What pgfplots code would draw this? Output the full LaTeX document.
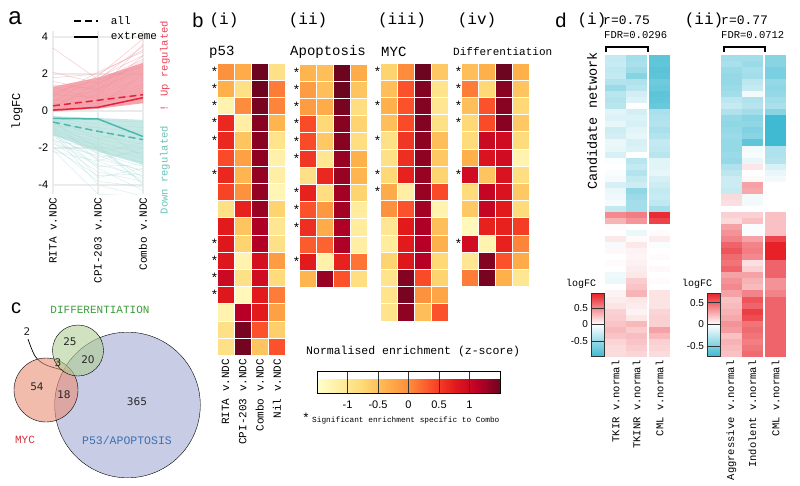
\documentclass[border=0pt]{standalone}
\usepackage{fontspec}
\setmainfont{Liberation Mono}
\newfontfamily\sans{Liberation Sans}
\newfontfamily\dvs{DejaVu Sans}
\usepackage{pgfplots}
\usepackage{pgfplotstable}
\pgfplotsset{compat=1.18}
\newcommand\fs[1]{\fontsize{#1}{#1}\selectfont}

\definecolor{upred}{HTML}{E8203A}
\definecolor{uppink}{HTML}{F2939D}
\definecolor{upband}{HTML}{F29AA4}
\definecolor{dnteal}{HTML}{4CB8AD}
\definecolor{dnlight}{HTML}{A6DAD5}
\definecolor{dnband}{HTML}{BCE4E0}
\definecolor{gridg}{HTML}{EBEBEB}
\definecolor{vblue}{HTML}{A3ABD3}
\definecolor{vred}{HTML}{EA8F77}
\definecolor{vgreen}{HTML}{B0CF95}
\definecolor{tgreen}{HTML}{3C9A3C}
\definecolor{tred}{HTML}{D8303A}
\definecolor{tblue}{HTML}{3C70B0}

\pgfplotsset{
  colormap={ylorrd}{rgb255=(255,255,204) rgb255=(255,237,160) rgb255=(254,217,118) rgb255=(254,178,76) rgb255=(253,141,60) rgb255=(252,78,42) rgb255=(227,26,28) rgb255=(189,0,38) rgb255=(110,5,32)},
  colormap={bwr}{rgb255=(64,186,210) rgb255=(255,255,255) rgb255=(232,32,40)},
  /pgf/number format/assume math mode=true,
  hm/.style={scatter, only marks, mark=bcell, point meta=explicit,
    scatter/use mapped color={draw=white, fill=mapped color}, line width=0.9pt},
  dm/.style={scatter, only marks, mark=dcell, point meta=explicit,
    scatter/use mapped color={draw=none, fill=mapped color}},
  hax/.style={scale only axis, width=68.4pt, xmin=-0.5, xmax=3.5, ymin=0.5,
    y dir=reverse, clip=false, axis line style={draw=none}, major tick length=0pt,
    xtick=\empty, ytick=\empty, colormap name=ylorrd,
    point meta min=-1.5, point meta max=1.5, anchor=north west},
  star/.style={draw=none, mark=none, nodes near coords={*},
    nodes near coords style={font=\fs{13}, anchor=center, text=black}},
}
\pgfdeclareplotmark{bcell}{\pgfpathrectangle{\pgfqpoint{-8.55pt}{-8.6pt}}{\pgfqpoint{17.1pt}{17.2pt}}\pgfusepathqfillstroke}
\pgfdeclareplotmark{dcell}{\pgfpathrectangle{\pgfqpoint{-10.6pt}{-3.1pt}}{\pgfqpoint{21.2pt}{6.2pt}}\pgfusepathqfill}

\newcommand\ul[3]{\addplot[uppink, opacity=0.5, line width=0.5pt] coordinates {(0,#1) (1,#2) (2,#3)};}
\newcommand\dl[3]{\addplot[dnlight, opacity=0.45, line width=0.5pt] coordinates {(0,#1) (1,#2) (2,#3)};}

\pgfplotstableread{
r a b c d
1 -0.05 -0.3 1.5 -0.9
2 -0.35 -0.9 1.5 0.1
3 -1.25 0.0 1.45 0.05
4 0.65 -1.15 1.38 -0.4
5 0.65 -0.55 1.38 -0.95
6 0.4 -0.2 1.35 -1.2
7 0.65 -0.4 1.32 -1.15
8 0.45 -0.05 1.32 -1.3
9 -0.9 0.7 1.3 -0.7
10 0.75 -0.55 1.2 -1.0
11 0.8 -0.7 1.18 -0.9
12 0.8 -1.25 0.9 -0.15
13 1.0 -0.9 0.95 -0.8
14 0.8 -1.35 0.75 0.1
15 -1.25 1.15 0.75 -0.2
16 -0.9 1.45 0.35 -0.65
17 -0.9 1.48 -0.55 0.35
}\tpf
\pgfplotstableread{
r a b c d
1 -0.4 -0.5 1.5 -0.3
2 -0.15 -0.5 1.5 -0.55
3 -0.15 -0.3 1.45 -0.85
4 0.4 -0.75 1.38 -0.7
5 0.4 -0.6 1.38 -0.85
6 0.55 -1.0 1.3 -0.35
7 -0.9 0.65 1.3 -0.4
8 0.7 -0.85 1.25 -0.7
9 0.35 -0.1 1.25 -1.1
10 0.6 -0.3 1.2 -1.1
11 0.3 0.25 1.2 -1.15
12 0.75 -1.2 0.7 0.15
13 -0.4 1.3 0.35 -0.85
}\tap
\pgfplotstableread{
r a b c d
1 -0.7 0.0 1.5 -0.6
2 -0.5 0.35 1.4 -0.95
3 -0.35 0.35 1.4 -1.0
4 -0.5 0.4 1.4 -0.9
5 -0.9 0.55 1.35 -0.5
6 -0.9 0.6 1.35 -0.6
7 -0.75 0.7 1.3 -0.7
8 -0.3 -1.15 1.3 0.4
9 -0.05 0.35 1.25 -1.25
10 -1.0 0.75 1.2 -0.5
11 -1.1 0.75 1.15 -0.35
12 -0.7 0.8 1.15 -0.75
13 -0.95 1.4 0.4 -0.7
14 -0.95 1.45 -0.05 -0.25
15 -0.95 1.35 -0.5 0.35
}\tmy
\pgfplotstableread{
r a b c d
1 -0.5 -0.35 1.5 -0.35
2 0.1 -0.75 1.38 -0.55
3 -0.5 0.35 1.38 -0.75
4 -0.75 0.4 1.38 -0.6
5 -0.8 1.0 0.95 -0.8
6 -0.35 0.85 0.95 -1.25
7 0.95 -0.55 0.85 -0.85
8 -0.8 1.05 0.85 -0.6
9 -0.6 1.05 0.75 -0.8
10 -1.35 0.7 0.7 0.5
11 0.95 -1.25 0.7 0.05
12 -1.0 1.4 0.35 -0.3
13 0.1 1.45 -0.35 -1.0
}\tdi

\pgfplotstableread{
r a b c
1 -0.3 -0.45 -0.8
2 -0.28 -0.42 -0.78
3 -0.32 -0.48 -0.82
4 -0.3 -0.6 -0.8
5 -0.38 -0.4 -0.72
6 -0.5 -0.35 -0.75
7 -0.35 -0.22 -0.8
8 -0.38 -0.18 -0.78
9 -0.35 0.0 -0.75
10 -0.15 -0.22 -0.42
11 -0.18 -0.18 -0.4
12 -0.12 -0.2 -0.38
13 -0.25 -0.15 -0.42
14 -0.22 -0.12 -0.38
15 -0.1 -0.2 -0.3
16 -0.12 -0.18 -0.32
17 -0.2 0.0 -0.35
18 -0.02 -0.35 -0.15
19 0.0 -0.3 -0.15
20 -0.03 -0.38 -0.12
21 -0.05 -0.3 -0.2
22 -0.2 -0.25 -0.25
23 -0.1 -0.55 -0.3
24 -0.08 -0.5 -0.28
25 -0.05 -0.45 -0.32
26 -0.3 -0.45 -0.45
27 0.5 0.55 0.9
28 0.32 0.45 0.8
29 0.02 0.0 0.0
30 0.0 -0.1 0.02
31 0.1 0.02 0.08
32 -0.05 0.1 -0.03
33 0.03 0.05 0.0
34 0.0 0.04 0.02
35 0.02 0.06 0.0
36 0.0 0.08 0.03
37 -0.08 0.1 0.0
38 -0.1 0.22 0.02
39 0.0 0.25 0.0
40 0.05 0.32 0.12
41 0.08 0.1 0.12
42 0.12 0.08 0.12
43 0.2 0.05 0.18
44 0.22 0.1 0.2
45 0.25 0.3 0.2
46 0.3 0.22 0.4
47 0.25 0.28 0.3
48 0.18 0.25 0.2
49 0.15 0.22 0.18
50 0.15 0.18 0.15
}\dia
\pgfplotstableread{
r a b c
1 -0.35 -0.35 -0.45
2 -0.32 -0.38 -0.45
3 -0.38 -0.33 -0.5
4 -0.4 -0.35 -0.5
5 -0.4 -0.25 -0.4
6 -0.38 -0.22 -0.42
7 -0.35 -0.05 -0.4
8 -0.25 -0.3 -0.35
9 -0.22 -0.28 -0.32
10 -0.3 -0.35 -0.45
11 -0.4 -0.45 -0.75
12 -0.42 -0.42 -0.78
13 -0.4 -0.48 -0.75
14 -0.38 -0.45 -0.72
15 -0.4 -0.6 -0.85
16 -0.4 -0.05 -0.3
17 -0.38 -0.03 -0.3
18 -0.4 -0.08 -0.28
19 -0.3 0.08 -0.15
20 -0.25 0.0 -0.08
21 -0.2 0.02 -0.05
22 -0.2 0.3 0.0
23 -0.22 0.28 0.0
24 0.12 -0.05 0.0
25 0.1 -0.05 0.0
26 0.0 0.0 0.0
27 0.15 0.15 0.2
28 0.12 0.2 0.2
29 0.3 -0.02 0.2
30 0.35 -0.02 0.2
31 0.4 0.3 0.6
32 0.5 0.4 0.85
33 0.55 0.42 0.88
34 0.48 0.38 0.85
35 0.45 0.1 0.5
36 0.5 0.15 0.5
37 0.3 0.3 0.5
38 0.35 0.25 0.35
39 0.38 0.22 0.35
40 0.3 0.4 0.4
41 0.2 0.55 0.5
42 0.22 0.5 0.5
43 0.25 0.62 0.5
44 0.28 0.58 0.5
45 0.35 0.45 0.5
46 0.32 0.48 0.5
47 0.2 0.45 0.5
48 0.25 0.42 0.5
49 0.22 0.45 0.5
50 0.2 0.48 0.5
}\dib

\begin{document}
\begin{tikzpicture}
\useasboundingbox (0pt,0pt) rectangle (800pt,-486pt);

%%%%%%%%%%%%%%%% panel a
\node[font=\sans\fs{24}] at (15pt,-18pt) {a};
\begin{axis}[at={(51.65pt,-31.45pt)}, anchor=north west, scale only axis,
  width=92.7pt, height=162.8pt,
  xmin=-0.03, xmax=2.03, ymin=-4.5, ymax=4.3,
  xtick={0,1,2}, xticklabels={RITA v.NDC, CPI-203 v.NDC, Combo v.NDC},
  ytick={-4,-2,0,2,4},
  grid=major, major grid style={gridg, line width=1.2pt},
  axis line style={draw=none}, major tick length=0pt,
  xticklabel style={rotate=90, anchor=east, font=\fs{11}},
  yticklabel style={font=\sans\fs{11}},
  legend style={draw=none, fill=none, at={(axis description cs:0.2,1.12)}, anchor=north west,
    font=\fs{11}, row sep=3pt},
  legend cell align=left,
  legend image code/.code={\draw[#1, line width=1.5pt] (0pt,0pt) -- (24pt,0pt);},
]
\addlegendimage{black, dash pattern=on 7pt off 4pt}\addlegendentry{\hspace{10pt}all}
\addlegendimage{black}\addlegendentry{\hspace{10pt}extreme}
\addplot[fill=upband, fill opacity=0.85, draw=none] coordinates {(0,-0.02) (1,0.12) (2,0.42) (2,2.6) (1,1.8) (0,1.3)} -- cycle;
\addplot[fill=dnband, fill opacity=0.85, draw=none] coordinates {(0,-0.28) (1,-0.38) (2,-0.48) (2,-2.9) (1,-2.2) (0,-1.3)} -- cycle;
\ul{0.1}{0.3}{0.6}\ul{0.2}{0.4}{0.9}\ul{0.3}{0.5}{1.1}\ul{0.4}{0.6}{1.3}\ul{0.5}{0.8}{1.5}
\ul{0.6}{0.9}{1.7}\ul{0.7}{1.0}{1.8}\ul{0.8}{1.1}{2.0}\ul{0.9}{1.3}{2.2}\ul{1.0}{1.4}{2.4}
\ul{1.1}{1.5}{2.6}\ul{1.2}{1.6}{2.8}\ul{1.3}{1.8}{3.0}\ul{0.0}{0.2}{0.5}\ul{0.05}{0.6}{1.2}
\ul{0.3}{1.2}{2.1}\ul{0.6}{0.4}{1.0}\ul{0.9}{0.7}{1.4}\ul{1.4}{1.2}{2.3}\ul{0.2}{1.5}{2.5}
\ul{2.1}{1.5}{2.7}\ul{3.4}{1.7}{2.4}\ul{1.8}{2.0}{3.3}\ul{0.5}{1.9}{3.9}\ul{1.6}{1.1}{3.6}
\ul{0.1}{0.9}{3.0}\ul{0.8}{2.1}{3.2}\ul{1.3}{0.6}{0.9}\ul{0.4}{0.3}{2.0}\ul{1.0}{1.7}{3.5}
\dl{-0.3}{-0.5}{-0.6}\dl{-0.4}{-0.7}{-0.9}\dl{-0.5}{-0.9}{-1.2}\dl{-0.6}{-1.1}{-1.5}\dl{-0.7}{-1.3}{-1.8}
\dl{-0.8}{-1.5}{-2.0}\dl{-0.9}{-1.7}{-2.3}\dl{-1.0}{-1.9}{-2.6}\dl{-1.1}{-2.1}{-2.8}\dl{-1.2}{-2.3}{-3.0}
\dl{-1.3}{-2.6}{-3.2}\dl{-1.5}{-2.9}{-3.5}\dl{-1.7}{-3.3}{-3.8}\dl{-1.9}{-3.8}{-4.1}\dl{-2.1}{-4.5}{-4.6}
\dl{-1.4}{-2.5}{-2.2}\dl{-1.6}{-3.0}{-2.9}\dl{-1.8}{-2.4}{-3.3}\dl{-2.0}{-3.5}{-3.4}\dl{-1.0}{-3.1}{-4.3}
\dl{-0.6}{-2.0}{-3.6}\dl{-1.2}{-4.0}{-4.6}\dl{-0.4}{-1.5}{-1.0}\dl{-0.8}{-0.9}{-2.5}\dl{-1.6}{-2.0}{-3.9}
\dl{-1.1}{-3.6}{-3.1}\dl{-0.5}{-2.7}{-2.0}\dl{-1.3}{-1.8}{-4.0}\dl{-2.2}{-2.7}{-3.7}\dl{-0.9}{-2.3}{-1.7}
\addplot[upred, dash pattern=on 7pt off 4pt, line width=1.5pt] coordinates {(0,0.28) (1,0.58) (2,0.88)};
\addplot[upred, line width=1.5pt] coordinates {(0,0.05) (1,0.2) (2,0.72)};
\addplot[dnteal, line width=1.5pt] coordinates {(0,-0.4) (1,-0.43) (2,-1.38)};
\addplot[dnteal, dash pattern=on 7pt off 4pt, line width=1.5pt] coordinates {(0,-0.6) (1,-1.1) (2,-1.55)};
\end{axis}
\node[rotate=90, font=\fs{12}] at (17pt,-111pt) {logFC};
\node[rotate=90, font=\fs{10.5}, text=upred!85] at (165pt,-66pt) {! Up regulated};
\node[rotate=90, font=\fs{10.5}, text=dnteal!85] at (165pt,-170pt) {Down regulated};

%%%%%%%%%%%%%%%% panel b
\node[font=\sans\fs{20}] at (198pt,-20pt) {b};
\node[font=\fs{16}] at (224pt,-20pt) {(i)};
\node[font=\fs{16}] at (308pt,-20pt) {(ii)};
\node[font=\fs{16}] at (402pt,-20pt) {(iii)};
\node[font=\fs{16}] at (477pt,-20pt) {(iv)};
\node[font=\fs{14}, anchor=west, inner sep=0pt] at (209pt,-52pt) {p53};
\node[font=\fs{14}, anchor=west, inner sep=0pt] at (290pt,-52pt) {Apoptosis};
\node[font=\fs{14}, anchor=west, inner sep=0pt] at (381pt,-52pt) {MYC};
\node[font=\fs{11}, anchor=west, inner sep=0pt] at (453pt,-52pt) {Differentiation};

\begin{axis}[hax, at={(217pt,-63pt)}, ymax=17.5, height=292.4pt,
  xtick={0,1,2,3}, xticklabels={RITA v.NDC, CPI-203 v.NDC, Combo v.NDC, Nil v.NDC},
  xticklabel style={rotate=90, anchor=east, font=\fs{11}}]
\addplot[hm] table[x expr=0, y=r, meta=a] {\tpf};
\addplot[hm] table[x expr=1, y=r, meta=b] {\tpf};
\addplot[hm] table[x expr=2, y=r, meta=c] {\tpf};
\addplot[hm] table[x expr=3, y=r, meta=d] {\tpf};
\addplot[star] coordinates {(-0.65,1) (-0.65,2) (-0.65,3) (-0.65,4) (-0.65,5) (-0.65,7) (-0.65,11) (-0.65,12) (-0.65,13) (-0.65,14)};
\end{axis}
\begin{axis}[hax, at={(299pt,-64pt)}, ymax=13.5, height=223.6pt]
\addplot[hm] table[x expr=0, y=r, meta=a] {\tap};
\addplot[hm] table[x expr=1, y=r, meta=b] {\tap};
\addplot[hm] table[x expr=2, y=r, meta=c] {\tap};
\addplot[hm] table[x expr=3, y=r, meta=d] {\tap};
\addplot[star] coordinates {(-0.65,1) (-0.65,2) (-0.65,3) (-0.65,4) (-0.65,5) (-0.65,6) (-0.65,8) (-0.65,9) (-0.65,10) (-0.65,12)};
\end{axis}
\begin{axis}[hax, at={(380pt,-63pt)}, ymax=15.5, height=258pt]
\addplot[hm] table[x expr=0, y=r, meta=a] {\tmy};
\addplot[hm] table[x expr=1, y=r, meta=b] {\tmy};
\addplot[hm] table[x expr=2, y=r, meta=c] {\tmy};
\addplot[hm] table[x expr=3, y=r, meta=d] {\tmy};
\addplot[star] coordinates {(-0.65,1) (-0.65,3) (-0.65,5) (-0.65,7) (-0.65,8)};
\end{axis}
\begin{axis}[hax, at={(461pt,-63pt)}, ymax=13.5, height=223.6pt]
\addplot[hm] table[x expr=0, y=r, meta=a] {\tdi};
\addplot[hm] table[x expr=1, y=r, meta=b] {\tdi};
\addplot[hm] table[x expr=2, y=r, meta=c] {\tdi};
\addplot[hm] table[x expr=3, y=r, meta=d] {\tdi};
\addplot[star] coordinates {(-0.65,1) (-0.65,2) (-0.65,3) (-0.65,4) (-0.65,7) (-0.65,11)};
\end{axis}

\node[font=\fs{11.5}, anchor=west, inner sep=0pt] at (306pt,-352pt) {Normalised enrichment (z-score)};
\begin{axis}[at={(317pt,-363pt)}, anchor=north west, scale only axis, width=183pt, height=22pt,
  hide axis, xmin=0, xmax=1, ymin=0, ymax=1,
  colormap name=ylorrd, point meta min=-1.5, point meta max=1.5,
  colorbar horizontal,
  colorbar style={at={(parent axis.north west)}, anchor=north west, width=183pt, height=22pt,
    xtick={-1,-0.5,0,0.5,1}, xtick align=inside, major tick length=22pt,
    xtick pos=bottom, xticklabel pos=bottom,
    tick style={black!80, line width=0.6pt},
    xticklabel style={font=\sans\fs{11}, yshift=-4pt},
    axis line style={black, line width=0.8pt}, ytick=\empty}]
\end{axis}
\node[anchor=west, inner sep=0pt] at (302pt,-419pt) {\fs{13}*\,\fs{7.8}Significant enrichment specific to Combo};

%%%%%%%%%%%%%%%% panel c
\node[font=\sans\fs{20}] at (16pt,-308pt) {c};
\begin{axis}[at={(0pt,-290pt)}, anchor=north west, scale only axis, width=210pt, height=196pt,
  xmin=0, xmax=210, ymin=290, ymax=486, y dir=reverse, hide axis, clip=false]
\addplot[only marks, mark=*, mark size=72.8pt, mark options={draw=none, fill=vblue, fill opacity=0.6}] coordinates {(127.5,405)};
\addplot[only marks, mark=*, mark size=32pt, mark options={draw=none, fill=vred, fill opacity=0.6}] coordinates {(46,390)};
\addplot[only marks, mark=*, mark size=25.5pt, mark options={draw=none, fill=vgreen, fill opacity=0.6}] coordinates {(78,350.5)};
\addplot[black, line width=0.7pt, smooth] coordinates {(28,339) (35,356) (46,365) (70,372)};
\addplot[draw=none, mark=none, point meta=explicit symbolic, nodes near coords,
  nodes near coords style={anchor=center, font=\dvs\fs{10.5}, text=black!85}] table[meta=t] {
x y t
137 402 365
70 342 25
88 360 20
58 363 3
37 387 54
64 395 18
27 332 2
};
\end{axis}
\node[font=\fs{11}, text=tgreen] at (100pt,-310pt) {DIFFERENTIATION};
\node[font=\fs{11}, text=tred] at (25pt,-440pt) {MYC};
\node[font=\fs{11.5}, text=tblue] at (127pt,-440pt) {P53/APOPTOSIS};

%%%%%%%%%%%%%%%% panel d
\node[font=\sans\fs{20}] at (561pt,-20pt) {d};
\node[font=\fs{16}] at (592pt,-20pt) {(i)};
\node[font=\fs{13}, anchor=west, inner sep=0pt] at (603pt,-20pt) {r=0.75};
\node[font=\fs{10.5}, anchor=west, inner sep=0pt] at (604pt,-35pt) {FDR=0.0296};
\node[font=\fs{16}] at (704pt,-20pt) {(ii)};
\node[font=\fs{13}, anchor=west, inner sep=0pt] at (721pt,-20pt) {r=0.77};
\node[font=\fs{10.5}, anchor=west, inner sep=0pt] at (721pt,-35pt) {FDR=0.0712};
\draw[black, line width=1.8pt] (606pt,-52pt) -- (606pt,-47pt) -- (648pt,-47pt) -- (648pt,-52pt);
\draw[black, line width=1.8pt] (724pt,-52pt) -- (724pt,-47pt) -- (765pt,-47pt) -- (765pt,-52pt);
\node[rotate=90, font=\fs{13.5}] at (592pt,-121pt) {Candidate network};

\begin{axis}[at={(605pt,-55pt)}, anchor=north west, scale only axis, width=65.1pt, height=302pt,
  xmin=-0.5, xmax=2.6, ymin=0.5, ymax=50.5, y dir=reverse, clip=false,
  axis line style={draw=none}, major tick length=0pt, ytick=\empty,
  xtick={0,1,2.1}, xticklabels={TKIR v.normal, TKINR v.normal, CML v.normal},
  xticklabel style={rotate=90, anchor=east, font=\fs{10.5}},
  colormap name=bwr, point meta min=-0.95, point meta max=0.95]
\addplot[dm] table[x expr=0, y=r, meta=a] {\dia};
\addplot[dm] table[x expr=1, y=r, meta=b] {\dia};
\addplot[dm] table[x expr=2.1, y=r, meta=c] {\dia};
\end{axis}
\begin{axis}[at={(721pt,-55pt)}, anchor=north west, scale only axis, width=65.1pt, height=302pt,
  xmin=-0.5, xmax=2.6, ymin=0.5, ymax=50.5, y dir=reverse, clip=false,
  axis line style={draw=none}, major tick length=0pt, ytick=\empty,
  xtick={0,1,2.1}, xticklabels={Aggressive v.normal, Indolent v.normal, CML v.normal},
  xticklabel style={rotate=90, anchor=east, font=\fs{10.5}},
  colormap name=bwr, point meta min=-0.72, point meta max=0.72]
\addplot[dm] table[x expr=0, y=r, meta=a] {\dib};
\addplot[dm] table[x expr=1, y=r, meta=b] {\dib};
\addplot[dm] table[x expr=2.1, y=r, meta=c] {\dib};
\end{axis}

\node[font=\fs{10}] at (581pt,-284pt) {logFC};
\begin{axis}[at={(583pt,-293pt)}, anchor=north west, scale only axis, width=13pt, height=63pt,
  hide axis, xmin=0, xmax=1, ymin=0, ymax=1,
  colormap name=bwr, point meta min=-0.95, point meta max=0.95,
  colorbar,
  colorbar style={at={(parent axis.north west)}, anchor=north west, width=13pt, height=63pt,
    ytick={-0.5,0,0.5}, ytick align=inside, major tick length=13pt,
    ytick pos=left, yticklabel pos=left,
    tick style={black!80, line width=0.6pt},
    yticklabel style={font=\sans\fs{10}},
    axis line style={black!80, line width=0.8pt}, xtick=\empty}]
\end{axis}
\node[font=\fs{10}] at (697pt,-284pt) {logFC};
\begin{axis}[at={(699pt,-293pt)}, anchor=north west, scale only axis, width=13pt, height=63pt,
  hide axis, xmin=0, xmax=1, ymin=0, ymax=1,
  colormap name=bwr, point meta min=-0.72, point meta max=0.72,
  colorbar,
  colorbar style={at={(parent axis.north west)}, anchor=north west, width=13pt, height=63pt,
    ytick={-0.5,0,0.5}, ytick align=inside, major tick length=13pt,
    ytick pos=left, yticklabel pos=left,
    tick style={black!80, line width=0.6pt},
    yticklabel style={font=\sans\fs{10}},
    axis line style={black!80, line width=0.8pt}, xtick=\empty}]
\end{axis}
\end{tikzpicture}
\end{document}
